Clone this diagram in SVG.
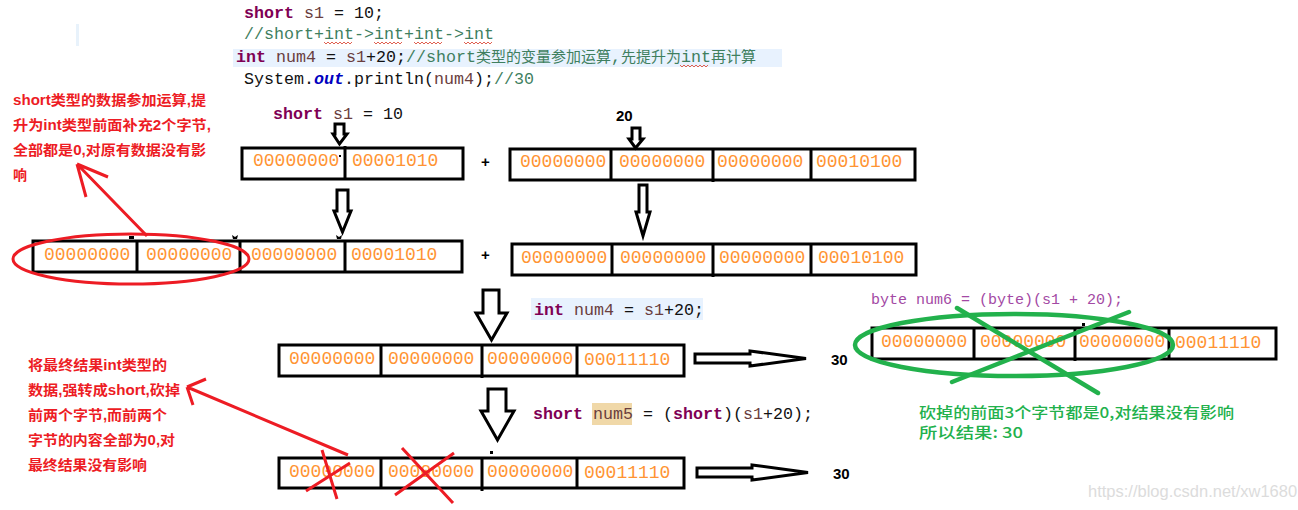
<svg xmlns="http://www.w3.org/2000/svg" width="1298" height="510" viewBox="0 0 1298 510">
<style>
text{white-space:pre}
.code{font-family:"Liberation Mono","Noto Sans CJK SC",monospace;font-size:16.67px;fill:#111}
.cj{font-size:15px;font-family:"Noto Sans CJK SC",sans-serif}
.kw{fill:#7f0055;font-weight:bold}
.var{fill:#6a3e3e}
.cm{fill:#3f7f5f}
.box{fill:#fff;stroke:#000;stroke-width:3}
.div{stroke:#000;stroke-width:3;fill:none}
.bits{font-family:"Liberation Mono",monospace;font-size:18px;fill:#ff9433}
.bk{font-family:"Liberation Sans",sans-serif;font-weight:bold;font-size:15px;fill:#000}
.red{font-family:"Liberation Sans","Noto Sans CJK SC",sans-serif;font-weight:bold;font-size:14px;fill:#ed1c24}
.grn{font-family:"Noto Sans CJK SC",sans-serif;font-size:15px;font-weight:500;fill:#22b14c}
.hollow{fill:#fff;stroke:#000;stroke-width:3}
.rl{stroke:#ed1c24;stroke-width:3;fill:none}
.gl{stroke:#22b14c;stroke-width:4.5;fill:none;stroke-linecap:round}
.wavy{stroke:#e06050;stroke-width:1;fill:none}
.tick{fill:#000}
</style>
<rect width="1298" height="510" fill="#fff"/>
<rect x="76" y="24" width="3" height="22" fill="#e8f2fb"/>

<g id="code">
<rect x="233" y="49" width="549" height="18" fill="#e8f2fe"/>
<text class="code" x="244" y="18"><tspan class="kw">short</tspan> <tspan class="var">s1</tspan> = 10;</text>
<text class="code cm" x="244" y="39">//short+int-&gt;int+int-&gt;int</text>
<text class="code" x="236" y="62"><tspan class="kw">int</tspan> <tspan class="var">num4</tspan> = <tspan class="var">s1</tspan>+20;<tspan class="cm">//short<tspan class="cj">类型的变量参加运算</tspan>,<tspan class="cj">先提升为</tspan>int<tspan class="cj">再计算</tspan></tspan></text>
<text class="code" x="244" y="84">System.<tspan fill="#0000c0" font-weight="bold" font-style="italic">out</tspan>.println(<tspan class="var">num4</tspan>);<tspan class="cm">//30</tspan></text>
<path class="wavy" d="M324 42l2 2 2-2 2 2 2-2 2 2 2-2 2 2 2-2 2 2 2-2 2 2 2-2 2 2 2-2M374 42l2 2 2-2 2 2 2-2 2 2 2-2 2 2 2-2 2 2 2-2 2 2 2-2 2 2 2-2M414 42l2 2 2-2 2 2 2-2 2 2 2-2 2 2 2-2 2 2 2-2 2 2 2-2 2 2 2-2M464 42l2 2 2-2 2 2 2-2 2 2 2-2 2 2 2-2 2 2 2-2 2 2 2-2 2 2 2-2M680 65l2 2 2-2 2 2 2-2 2 2 2-2 2 2 2-2 2 2 2-2 2 2 2-2 2 2 2-2"/>
</g>

<g id="label-s1"><text class="code" x="273" y="119"><tspan class="kw">short</tspan> <tspan class="var">s1</tspan> = 10</text></g>
<g id="label-20"><text class="bk" x="616" y="121">20</text></g>

<g id="row1-left">
<rect class="box" x="242" y="148" width="221" height="31"/>
<path class="div" d="M345 146V180"/>
<rect class="tick" x="339" y="155" width="2" height="2"/>
<text class="bits" x="253" y="166">00000000</text><text class="bits" x="352" y="166">00001010</text>
</g>
<g id="row1-plus"><text class="bk" x="481" y="167">+</text></g>
<g id="row1-right">
<rect class="box" x="510" y="149" width="405" height="31"/>
<path class="div" d="M611 149V180M713 149V182M811 149V180"/>
<text class="bits" x="520" y="167">00000000</text><text class="bits" x="619" y="167">00000000</text><text class="bits" x="717" y="167">00000000</text><text class="bits" x="816" y="167">00010100</text>
</g>

<g id="row2-left">
<rect class="box" x="33" y="241" width="429" height="31"/>
<path class="div" d="M137 241V272M240 241V272M345 241V272"/>
<path class="tick" d="M129 236h5v3h-5zM232 235l3 2 3-2-1 4h-4zM336 235l3 2 3-2-1 4h-4z"/>
<text class="bits" x="44" y="260">00000000</text><text class="bits" x="146" y="260">00000000</text><text class="bits" x="251" y="260">00000000</text><text class="bits" x="351" y="260">00001010</text>
</g>
<g id="row2-plus"><text class="bk" x="481" y="260">+</text></g>
<g id="row2-right">
<rect class="box" x="512" y="244" width="404" height="31"/>
<path class="div" d="M612 244V275M713 244V277M811 244V275"/>
<text class="bits" x="521" y="263">00000000</text><text class="bits" x="620" y="263">00000000</text><text class="bits" x="719" y="263">00000000</text><text class="bits" x="818" y="263">00010100</text>
</g>

<g id="row3">
<rect class="box" x="279" y="345" width="405" height="31"/>
<path class="div" d="M381 345V376M482 345V378M577 345V376"/>
<text class="bits" x="289" y="364">00000000</text><text class="bits" x="388" y="364">00000000</text><text class="bits" x="487" y="364">00000000</text><text class="bits" x="584" y="365">00011110</text>
</g>
<g id="label-int-num4">
<rect x="531" y="298" width="172" height="22" fill="#e8f2fe"/>
<text class="code" x="534" y="315"><tspan class="kw">int</tspan> <tspan class="var">num4</tspan> = <tspan class="var">s1</tspan>+20;</text>
</g>
<g id="row4">
<rect class="box" x="279" y="458" width="405" height="30"/>
<path class="div" d="M381 458V488M482 458V491M577 458V488"/>
<rect class="tick" x="490" y="451" width="3" height="3"/>
<text class="bits" x="289" y="477">00000000</text><text class="bits" x="388" y="477">00000000</text><text class="bits" x="487" y="477">00000000</text><text class="bits" x="584" y="478">00011110</text>
</g>
<g id="label-short-num5">
<rect x="592" y="403" width="40" height="22" fill="#f0d8a8"/>
<text class="code" x="533" y="419"><tspan class="kw">short</tspan> <tspan class="var">num5</tspan> = (<tspan class="kw">short</tspan>)(<tspan class="var">s1</tspan>+20);</text>
</g>
<g id="result-30a"><text class="bk" x="831" y="365">30</text></g>
<g id="result-30b"><text class="bk" x="833" y="479">30</text></g>

<g id="row3-byte">
<rect class="box" x="872" y="328" width="404" height="31"/>
<path class="div" d="M974 328V359M1075 328V361M1169 328V359"/>
<rect class="tick" x="1082" y="323" width="3" height="3"/>
<text class="bits" x="881" y="347">00000000</text><text class="bits" x="980" y="347">00000000</text><text class="bits" x="1079" y="347">00000000</text><text class="bits" x="1175" y="348">00011110</text>
</g>
<g id="label-byte"><text x="871" y="304" font-family="Liberation Mono,monospace" font-size="15px" fill="#a349a4">byte num6 = (byte)(s1 + 20);</text></g>

<g id="note-left-top">
<text class="red" x="13" y="105" textLength="193" lengthAdjust="spacingAndGlyphs">short类型的数据参加运算,提</text>
<text class="red" x="13" y="130" textLength="198" lengthAdjust="spacingAndGlyphs">升为int类型前面补充2个字节,</text>
<text class="red" x="13" y="155" textLength="193" lengthAdjust="spacingAndGlyphs">全部都是0,对原有数据没有影</text>
<text class="red" x="13" y="180" textLength="14" lengthAdjust="spacingAndGlyphs">响</text>
</g>
<g id="note-left-bottom">
<text class="red" x="28" y="370" textLength="139" lengthAdjust="spacingAndGlyphs">将最终结果int类型的</text>
<text class="red" x="28" y="395" textLength="152" lengthAdjust="spacingAndGlyphs">数据,强转成short,砍掉</text>
<text class="red" x="28" y="420" textLength="139" lengthAdjust="spacingAndGlyphs">前两个字节,而前两个</text>
<text class="red" x="28" y="445" textLength="147" lengthAdjust="spacingAndGlyphs">字节的内容全部为0,对</text>
<text class="red" x="28" y="470" textLength="119" lengthAdjust="spacingAndGlyphs">最终结果没有影响</text>
</g>
<g id="note-right">
<text class="grn" x="919" y="418" textLength="315" lengthAdjust="spacingAndGlyphs">砍掉的前面3个字节都是0,对结果没有影响</text>
<text class="grn" x="919" y="438" textLength="104" lengthAdjust="spacingAndGlyphs">所以结果: 30</text>
</g>

<g id="connectors">
<polygon class="hollow" points="335,124 344,124 344,134 347,134 339.5,144 333,134 335,134"/>
<polygon class="hollow" points="632,128 640,128 640,139 643,139 635.5,148 629,139 632,139"/>
<polygon class="hollow" points="337,190 348,190 348,211 351,211 342.5,232 334,211 337,211"/>
<polygon class="hollow" points="639,185 647,185 647,212 650,212 643,236 636,212 639,212"/>
<polygon class="hollow" points="483,290 499,290 499,313 507,313 491.5,340 476,313 483,313"/>
<polygon class="hollow" points="488,389 506,389 506,411 514,411 497.5,440 481,411 488,411"/>
<polygon class="hollow" points="695,354 750,354 750,351 806,358.500 750,366 750,363 695,363"/>
<polygon class="hollow" points="697,468 752,468 752,465 808,472.500 752,480 752,477 697,477"/>

<ellipse class="rl" cx="131" cy="259" rx="118" ry="25"/>
<path class="rl" d="M147 236L77 164M77 164L108 177M77 164L86 197"/>
<path class="rl" d="M348 455L187 387M187 387L206 379M187 387L193 405"/>
<path class="rl" d="M322 450L337 499M306 491L350 463M402 448L453 503M395 495L454 453"/>
<ellipse class="gl" cx="1014" cy="345" rx="159" ry="31"/>
<path class="gl" d="M957 308L1098 393M1129 312L952 382"/>
</g>
<g id="watermark"><text x="1088" y="497" font-family="Liberation Sans,sans-serif" font-size="16.5px" fill="#dcdcdc">https://blog.csdn.net/xw1680</text></g>
</svg>
